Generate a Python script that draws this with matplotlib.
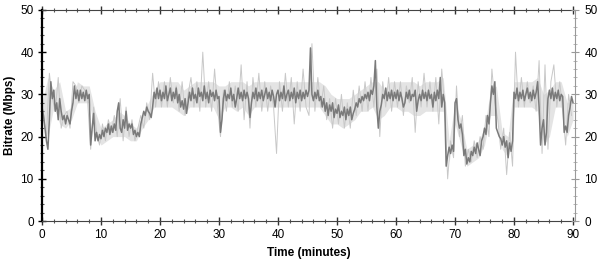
import numpy as np
import matplotlib
matplotlib.use("Agg")
import matplotlib.pyplot as plt
from matplotlib.ticker import MultipleLocator

plt.rcParams["font.family"] = ["Liberation Sans", "DejaVu Sans"]

# main (dark) trace, every 0.25 min from t=0
dark_t = np.arange(0, 90.01, 0.25)
dark_mbps = [
    27, 25, 22, 19, 17, 24, 33, 29, 31, 26, 28, 24, 29, 26, 24, 25, 23, 25, 24, 23,
    26, 28, 32, 29, 31, 28.5, 31, 29, 30.5, 28.5, 31, 29, 30, 18, 22, 25.5, 19, 21, 19, 20.5,
    19.5, 21.5, 20, 22, 21, 23, 20.5, 22.5, 21, 23, 21.5, 26, 28, 22, 21, 24, 22, 26, 21.5, 23,
    22, 23, 20.5, 21.5, 20, 21, 20, 23, 24.5, 26, 25, 27, 26, 25.5, 24.5, 27, 30.5, 29, 31.5, 29,
    31, 28.5, 30.5, 29, 32, 28.5, 30, 31.5, 28.5, 30.5, 29, 31.5, 28, 30, 27, 28.5, 26.5, 29, 25.5, 28,
    30.5, 28.5, 31.5, 29, 30, 28, 31.5, 29.5, 30.5, 28.5, 32, 29, 30.5, 28, 31, 29.5, 30.5, 28.5, 31, 29,
    29.5, 21, 24, 29, 31, 28.5, 30, 29, 31.5, 28.5, 30, 27, 29, 31.5, 29, 30.5, 28.5, 31, 29, 30.5,
    29, 24.5, 28, 30.5, 29, 31.5, 28.5, 30.5, 29, 31, 28.5, 30, 31.5, 29, 30.5, 28.5, 31, 29.5, 27, 30,
    31, 28.5, 30.5, 29, 32, 28.5, 30, 31, 28.5, 30.5, 29, 31.5, 28, 30.5, 29, 31, 28.5, 30.5, 29, 31,
    29.5, 31, 41, 30, 28.5, 30.5, 29, 31, 28.5, 29.5, 27, 29, 26, 28, 25, 27.5, 26, 28, 24.5, 26.5,
    25.5, 27.5, 24.5, 26, 25, 27, 24, 26.5, 25, 27, 24, 25.5, 26.5, 28, 27, 29, 28, 29.5, 28.5, 30,
    29, 30.5, 28.5, 31, 30, 32, 38, 27, 22, 26, 27.5, 30, 29, 31.5, 28.5, 30.5, 29, 31, 28.5, 30.5,
    29, 31, 28.5, 30.5, 29, 27, 28, 30.5, 29, 31, 28.5, 30, 29.5, 31, 26, 28.5, 30, 28.5, 31, 29,
    30.5, 28.5, 31, 29, 30, 27, 30.5, 28.5, 31, 29, 34, 27, 30, 28, 13, 15.5, 17.5, 16, 18, 16.5,
    28, 29, 24, 22, 23, 20.5, 15.5, 17, 13.5, 15, 14, 16.5, 15.5, 17.5, 16, 18.5, 17, 15.5, 19, 20,
    22, 20.5, 25, 23, 28, 32, 30, 33, 22, 21, 20, 19.5, 18, 20, 17.5, 19, 15, 18.5, 16.5, 19,
    30.5, 29, 31.5, 28.5, 30.5, 29, 31, 28.5, 30, 31.5, 29, 30.5, 28.5, 31, 29, 30.5, 33, 27, 18, 22,
    24, 18, 21, 29, 31, 29, 31.5, 28.5, 30.5, 29, 31, 28.5, 30, 29.5, 21, 22.5, 21, 25, 27, 29.5,
    28,
]

# light trace (spikier), every 0.5 min, offset by a quarter minute
light_t = np.arange(0.25, 90, 0.5)
light_mbps = [
    25, 20, 35, 29, 26, 34, 22, 25, 26, 22,
    33, 32, 28, 32, 31, 28, 17, 27, 21, 18,
    23, 19, 24, 21, 25, 20, 29, 19, 27, 20,
    24, 19, 22, 25, 22, 28, 24, 35, 27, 33,
    27, 33, 27, 34, 28, 32, 26, 33, 25, 30,
    34, 27, 33, 26, 40, 27, 33, 26, 36, 27,
    20, 31, 26, 33, 27, 32, 26, 37, 24, 33,
    22, 34, 27, 35, 26, 33, 26, 32, 27, 16,
    33, 26, 35, 27, 34, 23, 33, 26, 36, 27,
    25, 42, 26, 34, 27, 32, 24, 29, 22, 29,
    23, 30, 22, 28, 22, 31, 25, 32, 26, 33,
    26, 34, 27, 36, 20, 33, 27, 34, 26, 33,
    27, 33, 25, 32, 28, 34, 21, 33, 27, 35,
    27, 33, 26, 34, 23, 36, 27, 10, 19, 15,
    32, 20, 25, 13, 17, 14, 19, 15, 20, 17,
    25, 20, 36, 28, 24, 17, 22, 11, 21, 13,
    40, 27, 34, 27, 33, 28, 32, 26, 38, 16,
    37, 17, 33, 37, 27, 33, 26, 18, 30, 25,
]

# light band envelope, every minute
band_t = np.arange(0, 91, 1)
band_hi = [
    28, 34, 31, 33, 26, 27, 33, 32, 32, 26,
    22, 23, 24, 26, 25, 23, 22, 25, 28, 31,
    33, 33, 33, 33, 31, 32, 33, 33, 33, 33,
    32, 32, 33, 33, 33, 32, 33, 33, 33, 33,
    33, 33, 33, 33, 33, 33, 33, 33, 32, 30,
    29, 29, 29, 30, 31, 32, 33, 33, 31, 33,
    33, 33, 33, 33, 32, 33, 33, 33, 34, 19,
    28, 24, 17, 18, 19, 22, 31, 32, 21, 20,
    33, 33, 33, 33, 34, 30, 31, 33, 33, 28,
    29,
]
band_lo = [
    24, 20, 27, 23, 22, 24, 28, 28, 28, 21,
    18, 19, 20, 20, 20, 19, 19, 22, 24, 27,
    27, 27, 27, 26, 25, 27, 27, 27, 27, 27,
    24, 27, 27, 26, 27, 25, 27, 27, 27, 27,
    27, 27, 27, 27, 27, 27, 27, 27, 25, 23,
    23, 22, 23, 24, 26, 26, 27, 24, 25, 27,
    27, 26, 26, 25, 25, 26, 26, 26, 26, 14,
    23, 18, 13, 14, 15, 18, 25, 25, 17, 15,
    27, 27, 27, 27, 26, 18, 20, 27, 27, 20,
    24,
]

fig = plt.figure(figsize=(6, 2.61), dpi=100)
ax = fig.add_axes([0.07, 0.153, 0.888, 0.809])

ax.fill_between(band_t, band_lo, band_hi, color="#e4e4e4", lw=0)
ax.plot(light_t, light_mbps, color="#c8c8c8", lw=0.7)
ax.plot(dark_t, dark_mbps, color="#7a7a7a", lw=1.1)

ax.set_xlim(0, 90.3)
ax.set_ylim(0, 50)
ax.xaxis.set_major_locator(MultipleLocator(10))
ax.xaxis.set_minor_locator(MultipleLocator(2))
ax.yaxis.set_major_locator(MultipleLocator(10))
ax.yaxis.set_minor_locator(MultipleLocator(2))

ax.set_xlabel("Time (minutes)", fontsize=8.5, fontweight="bold", labelpad=4)
ax.set_ylabel("Bitrate (Mbps)", fontsize=8.5, fontweight="bold", labelpad=3)

ax.tick_params(axis="both", which="major", direction="inout", length=6,
               width=1, labelsize=8.5, colors="black", pad=3)
ax.tick_params(axis="both", which="minor", direction="inout", length=3,
               width=0.8, colors="#555555")
ax.tick_params(axis="x", top=True, which="both")
ax.tick_params(axis="x", which="major", top=True, colors="#333333", labelcolor="black")

ax.spines["left"].set_linewidth(1.6)
ax.spines["left"].set_color("black")
ax.spines["bottom"].set_color("#444444")
ax.spines["top"].set_color("#444444")
ax.spines["right"].set_visible(False)

# right-hand axis, lighter
ax2 = ax.twinx()
ax2.set_ylim(0, 50)
ax2.yaxis.set_major_locator(MultipleLocator(10))
ax2.yaxis.set_minor_locator(MultipleLocator(2))
ax2.tick_params(axis="y", which="major", direction="inout", length=6,
                color="#999999", labelcolor="black", labelsize=8.5, pad=4)
ax2.tick_params(axis="y", which="minor", direction="inout", length=3,
                color="#aaaaaa")
for s in ["left", "top", "bottom"]:
    ax2.spines[s].set_visible(False)
ax2.spines["right"].set_color("#999999")

fig.savefig("out.png", dpi=100)
